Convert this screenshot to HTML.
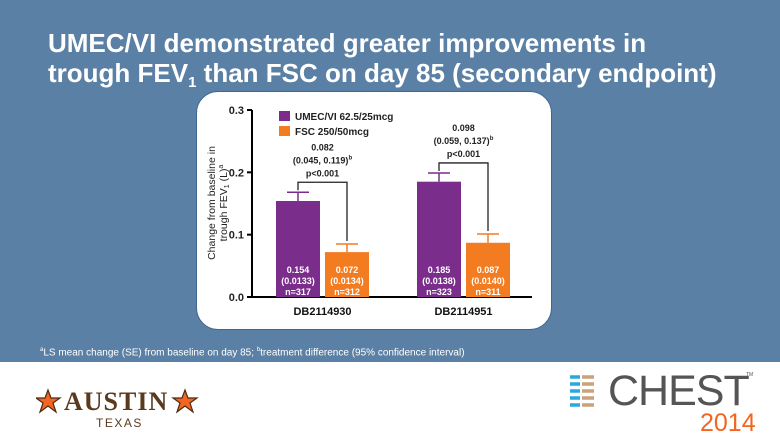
<!DOCTYPE html>
<html><head><meta charset="utf-8">
<style>
html,body{margin:0;padding:0}
body{width:780px;height:439px;position:relative;overflow:hidden;background:#fff;font-family:"Liberation Sans",sans-serif}
#band{position:absolute;left:0;top:0;width:780px;height:362px;background:#5b80a5}
#title{position:absolute;left:48px;top:28px;color:#fff;font-weight:bold;font-size:26px;line-height:30px;letter-spacing:0px}
#title sub{font-size:15px;vertical-align:-5px;line-height:0}
#panel{position:absolute;left:196px;top:91px;width:354px;height:237px;background:#fff;border-radius:22px;border:1px solid #3f6690}
#foot{position:absolute;left:40px;top:347px;color:#fff;font-size:10px}
#foot sup{font-size:6px}
</style></head><body>
<div id="band"></div>
<div id="title">UMEC/VI demonstrated greater improvements in<br>trough FEV<sub>1</sub> than FSC on day 85 (secondary endpoint)</div>
<div id="panel"></div>
<svg id="chart" width="780" height="439" style="position:absolute;left:0;top:0" font-family="Liberation Sans, sans-serif"></svg>
<div id="foot"><sup>a</sup>LS mean change (SE) from baseline on day 85; <sup>b</sup>treatment difference (95% confidence interval)</div>

<div style="position:absolute;left:36px;top:388px;width:165px;height:45px">
<svg width="165" height="45" style="position:absolute;left:0;top:0">
<polygon points="12,0 15,8 24,8 17,13 20,22 12,16 4,22 7,13 0,8 9,8" fill="#f26522" stroke="#4a2c14" stroke-width="1.2" transform="translate(0,2)"/>
<polygon points="12,0 15,8 24,8 17,13 20,22 12,16 4,22 7,13 0,8 9,8" fill="#f26522" stroke="#4a2c14" stroke-width="1.2" transform="translate(137,2)"/>
</svg>
<div style="position:absolute;left:28px;top:1px;font-family:'Liberation Serif',serif;font-weight:bold;font-size:26px;color:#5a3a1e;letter-spacing:1px;line-height:26px">AUSTIN</div>
<div style="position:absolute;left:60px;top:28px;font-size:12px;color:#5a3a1e;letter-spacing:1.5px">TEXAS</div>
</div>

<div style="position:absolute;left:568px;top:370px;width:212px;height:69px">
<svg width="30" height="36" style="position:absolute;left:0;top:4px">
<g stroke-width="3.5" fill="none">
<path d="M2 3h10M2 10h10M2 17h10M2 24h10M2 31h10" stroke="#29a8e0"/>
<path d="M14 3h12M14 10h12M14 17h12M14 24h12M14 31h12" stroke="#c9a17a"/>
</g></svg>
<div style="position:absolute;left:40px;top:0px;font-size:43px;color:#555;letter-spacing:-1px;line-height:43px">CHEST</div>
<div style="position:absolute;left:178px;top:2px;font-size:5px;color:#555">TM</div>
<div style="position:absolute;left:132px;top:40px;font-size:25px;color:#f26522;line-height:27px">2014</div>
</div>

<script>
const categories=["DB2114930","DB2114951"];
const umecVals=[0.154,0.185];
const fscVals=[0.072,0.087];
const umecErr=[0.168,0.199];
const fscErr=[0.085,0.101];
const umecSE=["(0.0133)","(0.0138)"];
const fscSE=["(0.0134)","(0.0140)"];
const umecN=["n=317","n=323"];
const fscN=["n=312","n=311"];
const diffVals=["0.082","0.098"];
const diffCI=["(0.045, 0.119)","(0.059, 0.137)"];
const yTicks=[0,0.1,0.2,0.3];
const tickLabels=["0.0","0.1","0.2","0.3"];

const svg=document.getElementById('chart');
const NS="http://www.w3.org/2000/svg";
const y0=297,yTop=110,yMax=0.3;
const y=v=>y0-(v/yMax)*(y0-yTop);
const groupX=i=>276+i*141;
const barW=44, gap=5;
const PURPLE="#7b2d8b", ORANGE="#f47c20";
function el(t,a,txt){const e=document.createElementNS(NS,t);for(const k in a)e.setAttribute(k,a[k]);if(txt!==undefined)e.textContent=txt;svg.appendChild(e);return e;}

let ax=el('line',{x1:252,y1:yTop,x2:252,y2:y0,stroke:'#000','stroke-width':2});


let xax=el('line',{x1:251,y1:y0,x2:532,y2:y0,stroke:'#000','stroke-width':2});


yTicks.forEach((v,i)=>{
  let t=el('line',{x1:247,y1:y(v),x2:252,y2:y(v),stroke:'#000','stroke-width':2});
  
  
  let l=el('text',{x:244,y:y(v)+4,'text-anchor':'end','font-size':11,'font-weight':'bold',fill:'#222'},tickLabels[i]);
  
  
});
let yt=el('text',{transform:'translate(215,203) rotate(-90)','text-anchor':'middle','font-size':10.5,fill:'#222'});


yt.innerHTML='<tspan x="0" y="0">Change from baseline in</tspan><tspan x="0" y="12">trough FEV<tspan font-size="7" dy="2">1</tspan><tspan dy="-2"> (L)</tspan><tspan font-size="7" dy="-4">a</tspan></tspan>';

function bar(x,v,err,color,name){
  let r=el('rect',{x:x,y:y(v),width:barW,height:y0-y(v),fill:color});
  
  
  let e=el('path',{d:`M${x+barW/2} ${y(v)}V${y(err)}M${x+barW/2-11} ${y(err)}h22`,stroke:color,'stroke-width':1.5,fill:'none'});
  
  
}
function lbl(cx,lines){
  lines.forEach((s,k)=>{
    let t=el('text',{x:cx,y:273+k*11,'text-anchor':'middle','font-size':9,'font-weight':'bold',fill:'#fff'},s);
    
    
  });
}
categories.forEach((c,i)=>{
  const gx=groupX(i), ox=gx+barW+gap;
  bar(gx,umecVals[i],umecErr[i],PURPLE,'bar-umec-'+(i+1));
  bar(ox,fscVals[i],fscErr[i],ORANGE,'bar-fsc-'+(i+1));
  lbl(gx+barW/2,[umecVals[i].toFixed(3),umecSE[i],umecN[i]]);
  lbl(ox+barW/2,[fscVals[i].toFixed(3),fscSE[i],fscN[i]]);
  let cl=el('text',{x:gx+barW+gap/2,y:315,'text-anchor':'middle','font-size':11,'font-weight':'bold',fill:'#111'},c);
  
  
  const topY=y(umecErr[i])-10;
  let br=el('path',{d:`M${gx+barW/2} ${y(umecErr[i])-2}V${topY}H${ox+barW/2}V${y(fscErr[i])-3}`,stroke:'#222','stroke-width':1.3,fill:'none'});
  
  
  const cx=gx+barW+gap/2;
  let a=el('text',{x:cx,y:topY-32,'text-anchor':'middle','font-size':9,'font-weight':'bold',fill:'#222'},diffVals[i]);
  
  
  let b=el('text',{x:cx,y:topY-19,'text-anchor':'middle','font-size':9,'font-weight':'bold',fill:'#222'});
  b.innerHTML=diffCI[i]+'<tspan font-size="6" dy="-4">b</tspan>';
  
  
  let p=el('text',{x:cx,y:topY-6,'text-anchor':'middle','font-size':9,'font-weight':'bold',fill:'#222'},'p<0.001');
  
  
});
[[PURPLE,'UMEC/VI 62.5/25mcg',110],[ORANGE,'FSC 250/50mcg',125]].forEach((d,k)=>{
  let s=el('rect',{x:279,y:d[2]+1,width:11,height:10,fill:d[0]});
  
  
  let t=el('text',{x:295,y:d[2]+10,'font-size':10,'font-weight':'bold',fill:'#222'},d[1]);
  
  
});
</script>
</body></html>
